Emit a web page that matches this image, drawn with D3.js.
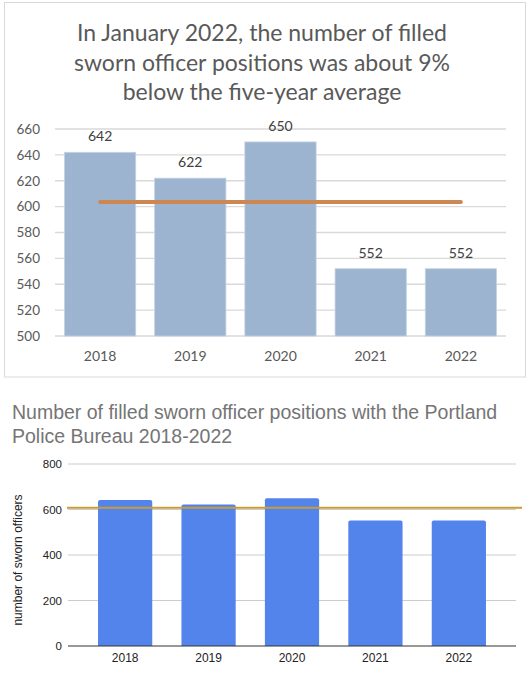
<!DOCTYPE html>
<html>
<head>
<meta charset="utf-8">
<script src="https://cdn.jsdelivr.net/npm/d3@7"></script>
<style>
  html, body { margin: 0; padding: 0; background: #ffffff; }
  svg { display: block; }
</style>
</head>
<body>
<svg id="chart" width="530" height="676"></svg>
<script>
// ---------- data ----------
const years = ["2018", "2019", "2020", "2021", "2022"];
const officers = [642, 622, 650, 552, 552];
const topTicks = [500, 520, 540, 560, 580, 600, 620, 640, 660];
const topTitle = ["In January 2022, the number of filled",
                  "sworn officer positions was about 9%",
                  "below the five-year average"];
const topAverage = d3.mean(officers);

const bottomTicks = [0, 200, 400, 600, 800];
const bottomAverage = 608;
const bottomTitle = ["Number of filled sworn officer positions with the Portland",
                     "Police Bureau 2018-2022"];
const bottomYLabel = "number of sworn officers";

const svg = d3.select("#chart");

// ================= TOP CHART (Excel style) =================
const topFont = "Lato, 'Open Sans', sans-serif";
const g1 = svg.append("g");
g1.append("rect")
  .attr("x", 4.5).attr("y", 2.5).attr("width", 521).attr("height", 374.5)
  .attr("fill", "#fff").attr("stroke", "#d9d9d9").attr("stroke-width", 1);

g1.selectAll("text.title").data(topTitle).join("text")
  .attr("class", "title")
  .attr("x", 262).attr("y", (d, i) => 41 + i * 29.5)
  .attr("text-anchor", "middle")
  .attr("font-family", topFont).attr("font-size", 23)
  .attr("fill", "#595959")
  .text(d => d);

const x1 = d3.scaleBand().domain(years).range([55, 506])
  .paddingInner(0.21).paddingOuter(0.105);
const y1 = d3.scaleLinear().domain([500, 660]).range([336, 129]);

// gridlines
g1.append("g").selectAll("line").data(topTicks).join("line")
  .attr("x1", 55).attr("x2", 506)
  .attr("y1", d => y1(d)).attr("y2", d => y1(d))
  .attr("stroke", "#d9d9d9").attr("stroke-width", 1.3);

// y axis labels
const ay1 = g1.append("g").attr("transform", "translate(40,0)")
  .call(d3.axisLeft(y1).tickValues(topTicks).tickSize(0).tickPadding(0));
ay1.select(".domain").remove();
ay1.selectAll("text").attr("font-family", topFont).attr("font-size", 13.5)
  .attr("fill", "#595959");

// bars
g1.append("g").selectAll("rect").data(officers).join("rect")
  .attr("x", (d, i) => x1(years[i]))
  .attr("width", x1.bandwidth())
  .attr("y", d => y1(d))
  .attr("height", d => y1(500) - y1(d))
  .attr("fill", "#9cb4cf")
  .attr("stroke", "#c4d3e4").attr("stroke-width", 0.8);

// value labels
g1.append("g").selectAll("text").data(officers).join("text")
  .attr("x", (d, i) => x1(years[i]) + x1.bandwidth() / 2)
  .attr("y", d => y1(d) - 11)
  .attr("text-anchor", "middle")
  .attr("font-family", topFont).attr("font-size", 14)
  .attr("fill", "#404040")
  .text(d => d);

// x axis labels
const ax1 = g1.append("g").attr("transform", "translate(0,336)")
  .call(d3.axisBottom(x1).tickSize(0).tickPadding(15));
ax1.select(".domain").remove();
ax1.selectAll("text").attr("font-family", topFont).attr("font-size", 14)
  .attr("fill", "#595959");

// average line
g1.append("line")
  .attr("x1", x1(years[0]) + x1.bandwidth() / 2)
  .attr("x2", x1(years[years.length - 1]) + x1.bandwidth() / 2)
  .attr("y1", y1(topAverage)).attr("y2", y1(topAverage))
  .attr("stroke", "#cd8753").attr("stroke-width", 4).attr("stroke-linecap", "round");

// ================= BOTTOM CHART (Google Sheets style) =================
const botFont = "Arial, 'Liberation Sans', sans-serif";
const g2 = svg.append("g");

g2.selectAll("text.title").data(bottomTitle).join("text")
  .attr("class", "title")
  .attr("x", 12).attr("y", (d, i) => 419 + i * 23.5)
  .attr("font-family", botFont).attr("font-size", 19.5)
  .attr("fill", "#757575")
  .text(d => d);

const x2 = d3.scaleBand().domain(years).range([68, 516])
  .paddingInner(0.35).paddingOuter(0.36);
const y2 = d3.scaleLinear().domain([0, 800]).range([646, 464]);

g2.append("g").selectAll("line").data(bottomTicks.filter(d => d > 0)).join("line")
  .attr("x1", 68).attr("x2", 516)
  .attr("y1", d => y2(d)).attr("y2", d => y2(d))
  .attr("stroke", "#cccccc").attr("stroke-width", 1);

const ay2 = g2.append("g").attr("transform", "translate(62,0)")
  .call(d3.axisLeft(y2).tickValues(bottomTicks).tickSize(0).tickPadding(0));
ay2.select(".domain").remove();
ay2.selectAll("text").attr("font-family", botFont).attr("font-size", 11.5)
  .attr("fill", "#222");

const r = 2;
g2.append("g").selectAll("path").data(officers).join("path")
  .attr("d", (d, i) => {
    const x0 = x2(years[i]), w = x2.bandwidth();
    const yt = y2(d), yb = y2(0);
    return `M${x0},${yb}V${yt + r}Q${x0},${yt} ${x0 + r},${yt}H${x0 + w - r}Q${x0 + w},${yt} ${x0 + w},${yt + r}V${yb}Z`;
  })
  .attr("fill", "#5384eb");

// baseline
g2.append("line").attr("x1", 68).attr("x2", 516)
  .attr("y1", y2(0)).attr("y2", y2(0))
  .attr("stroke", "#333").attr("stroke-width", 1.2);

const ax2 = g2.append("g").attr("transform", `translate(0,${y2(0)})`)
  .call(d3.axisBottom(x2).tickSize(0).tickPadding(7));
ax2.select(".domain").remove();
ax2.selectAll("text").attr("font-family", botFont).attr("font-size", 12)
  .attr("fill", "#222");

// average line
g2.append("line").attr("x1", 67).attr("x2", 522)
  .attr("y1", y2(bottomAverage)).attr("y2", y2(bottomAverage))
  .attr("stroke", "#c99d36").attr("stroke-width", 2);

// y title
g2.append("text")
  .attr("transform", `translate(22,${(y2(0) + y2(800)) / 2 + 5}) rotate(-90)`)
  .attr("text-anchor", "middle")
  .attr("font-family", botFont).attr("font-size", 12)
  .attr("fill", "#222")
  .text(bottomYLabel);
</script>
</body>
</html>
